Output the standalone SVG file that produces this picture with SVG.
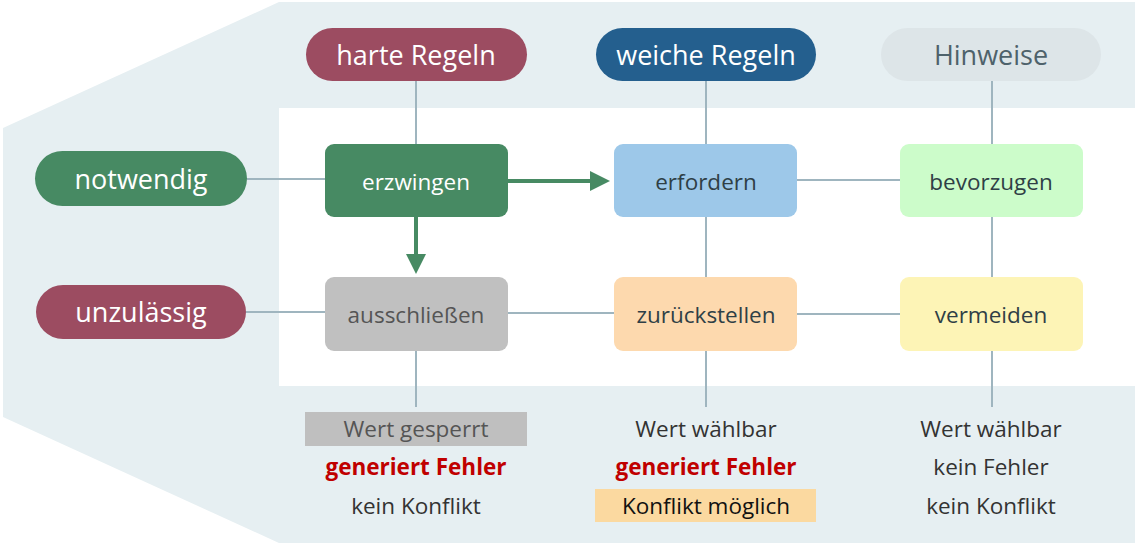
<svg xmlns="http://www.w3.org/2000/svg" width="1146" height="544" viewBox="0 0 1146 544">
<style>
text{font-family:"Open Sans","Noto Sans",sans-serif;text-anchor:middle;dominant-baseline:central}
.pill text{font-size:27px;fill:#fff}
.box text{font-size:22.5px}
.ln{stroke:#9fb5bf;stroke-width:2;fill:none}
.g{stroke:#478a63;stroke-width:4;fill:none}
.info{font-size:22.5px;fill:#333}
.red{font-size:22.5px;fill:#c00000;font-weight:bold}
</style>
<defs><marker id="ah" markerWidth="5" markerHeight="5" refX="4" refY="2.5" orient="auto" markerUnits="strokeWidth"><path d="M0,0L5,2.5L0,5z" fill="#478a63"/></marker></defs>
<polygon points="3,128 279,2 1135,2 1135,543 279,543 3,417" fill="#e6eff2"/>
<rect x="279" y="108" width="856" height="278" fill="#fff"/>
<g id="connectors">
<path class="ln" d="M416,81V144M416,351V407M706,81V144M706,217V277M706,351V407M992,81V144M992,217V277M992,351V407M247,179H325M246,312H325M508,313H614M797,180H900M797,314H900"/>
<path class="g" d="M508,181H606" marker-end="url(#ah)"/>
<path class="g" d="M416,217V270" marker-end="url(#ah)"/>
</g>
<g id="harte" class="pill"><rect x="306" y="28" width="221" height="53" rx="26.5" fill="#9c4c61"/><text x="416" y="54">harte Regeln</text></g>
<g id="weiche" class="pill"><rect x="596" y="28" width="220" height="53" rx="26.5" fill="#245f8e"/><text x="706" y="54">weiche Regeln</text></g>
<g id="hinweise" class="pill"><rect x="881" y="28" width="220" height="53" rx="26.5" fill="#dde5e8"/><text x="991" y="54" style="fill:#4e626b">Hinweise</text></g>
<g id="notwendig" class="pill"><rect x="35" y="151" width="212" height="55" rx="27.5" fill="#478a63"/><text x="141" y="178">notwendig</text></g>
<g id="unzulaessig" class="pill"><rect x="36" y="285" width="210" height="54" rx="27" fill="#9c4c61"/><text x="141" y="311">unzulässig</text></g>
<g id="erzwingen" class="box"><rect x="325" y="144" width="183" height="73" rx="9" fill="#478a63"/><text x="416" y="181" fill="#fff">erzwingen</text></g>
<g id="erfordern" class="box"><rect x="614" y="144" width="183" height="73" rx="9" fill="#9dc8e9"/><text x="706" y="181" fill="#2f3f46">erfordern</text></g>
<g id="bevorzugen" class="box"><rect x="900" y="144" width="183" height="73" rx="9" fill="#ccfcca"/><text x="991" y="181" fill="#2f3f46">bevorzugen</text></g>
<g id="ausschliessen" class="box"><rect x="325" y="277" width="183" height="74" rx="9" fill="#c0c0c0"/><text x="416" y="314" fill="#555">ausschließen</text></g>
<g id="zurueckstellen" class="box"><rect x="614" y="277" width="183" height="74" rx="9" fill="#fdd9ae"/><text x="706" y="314" fill="#2f3f46">zurückstellen</text></g>
<g id="vermeiden" class="box"><rect x="900" y="277" width="183" height="74" rx="9" fill="#fdf4b6"/><text x="991" y="314" fill="#2f3f46">vermeiden</text></g>
<rect x="305" y="412" width="222" height="34" fill="#bfbfbf"/>
<rect x="595" y="489" width="221" height="33" fill="#fbd9a0"/>
<text class="info" x="416" y="428" style="fill:#555">Wert gesperrt</text>
<text class="red" x="416" y="466">generiert Fehler</text>
<text class="info" x="416" y="505">kein Konflikt</text>
<text class="info" x="706" y="428">Wert wählbar</text>
<text class="red" x="706" y="466">generiert Fehler</text>
<text class="info" x="706" y="505" style="fill:#111">Konflikt möglich</text>
<text class="info" x="991" y="428">Wert wählbar</text>
<text class="info" x="991" y="466">kein Fehler</text>
<text class="info" x="991" y="505">kein Konflikt</text>
</svg>
